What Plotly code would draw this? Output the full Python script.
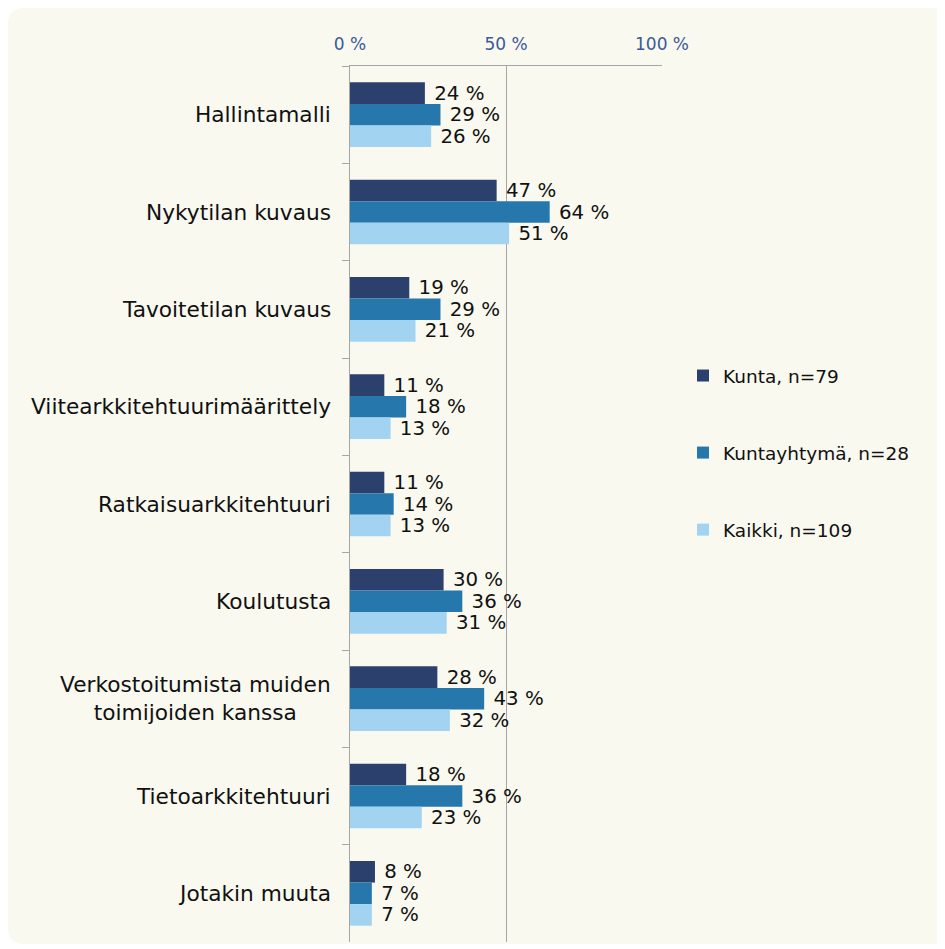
import plotly.graph_objects as go

categories = ["Hallintamalli", "Nykytilan kuvaus", "Tavoitetilan kuvaus",
              "Viitearkkitehtuurimäärittely", "Ratkaisuarkkitehtuuri", "Koulutusta",
              "Verkostoitumista muiden<br>toimijoiden kanssa", "Tietoarkkitehtuuri",
              "Jotakin muuta"]
series_names = ["Kunta, n=79", "Kuntayhtymä, n=28", "Kaikki, n=109"]
kunta = [24, 47, 19, 11, 11, 30, 28, 18, 8]
kuntayhtyma = [29, 64, 29, 18, 14, 36, 43, 36, 7]
kaikki = [26, 51, 21, 13, 13, 31, 32, 23, 7]
x_ticks = [0, 50, 100]
x_tick_labels = ["0 %", "50 %", "100 %"]

colors = ["#2b406c", "#2677ab", "#a2d3f1"]
FONT = "DejaVu Sans"

# page is offset by the 8px body margin
OFF = 8
W, H = 945 - OFF, 949 - OFF
L, R, T, B = 350 - OFF, 662 - OFF, 66 - OFF, 942 - OFF

fig = go.Figure()
for name, vals, col in zip(series_names, [kunta, kuntayhtyma, kaikki], colors):
    fig.add_trace(go.Bar(
        y=categories, x=vals, name=name, orientation="h",
        marker=dict(color=col, line=dict(width=0)),
        text=[f"\u00a0{v} %" for v in vals], textposition="outside",
        textfont=dict(family=FONT, size=19.8, color="#111111"),
        constraintext="none", cliponaxis=False, legendgroup=name,
    ))

def px2x(p):
    return (p - L) / (R - L)

def py2y(p):
    return (B - p) / (B - T)

bx0, bx1, by0, by1, rad = 0, 960, 0, 936, 16
path = (f"M {px2x(bx0 + rad)},{py2y(by0)} L {px2x(bx1)},{py2y(by0)} "
        f"L {px2x(bx1)},{py2y(by1)} L {px2x(bx0 + rad)},{py2y(by1)} "
        f"Q {px2x(bx0)},{py2y(by1)} {px2x(bx0)},{py2y(by1 - rad)} "
        f"L {px2x(bx0)},{py2y(by0 + rad)} "
        f"Q {px2x(bx0)},{py2y(by0)} {px2x(bx0 + rad)},{py2y(by0)} Z")
fig.add_shape(type="path", path=path, xref="paper", yref="paper",
              fillcolor="#f9f9ef", line=dict(width=0), layer="below")

for c in categories:
    fig.add_annotation(x=0, xref="paper", y=c, yref="y", text=c, showarrow=False,
                       xanchor="right", xshift=-17, align="center",
                       font=dict(family=FONT, size=21.7, color="#111111"))

fig.update_layout(
    width=W, height=H,
    margin=dict(l=L, r=W - R, t=T, b=H - B, pad=0),
    paper_bgcolor="white", plot_bgcolor="rgba(0,0,0,0)",
    barmode="group", bargap=0.335, bargroupgap=0,
    font=dict(family=FONT, color="#111111"),
    showlegend=True,
    legend=dict(x=px2x(675), xanchor="left", y=py2y(445), yanchor="middle",
                traceorder="grouped", tracegroupgap=50,
                font=dict(family=FONT, size=18.5, color="#111111"),
                bgcolor="rgba(0,0,0,0)"),
    xaxis=dict(side="top", range=[0, 100], tickvals=x_ticks, ticktext=x_tick_labels,
               showgrid=True, gridcolor="#a6a6a6", gridwidth=1,
               showline=True, linecolor="#a6a6a6", linewidth=1,
               zeroline=False, ticks="", ticklabelstandoff=8,
               tickfont=dict(family=FONT, size=17, color="#3a5a98")),
    yaxis=dict(type="category", range=[8.5, -0.5], showticklabels=False,
               showline=True, linecolor="#a6a6a6", linewidth=1,
               ticks="outside", tickson="boundaries", ticklen=7, tickcolor="#a6a6a6",
               showgrid=False, zeroline=False),
)

fig.write_html("out.html")
